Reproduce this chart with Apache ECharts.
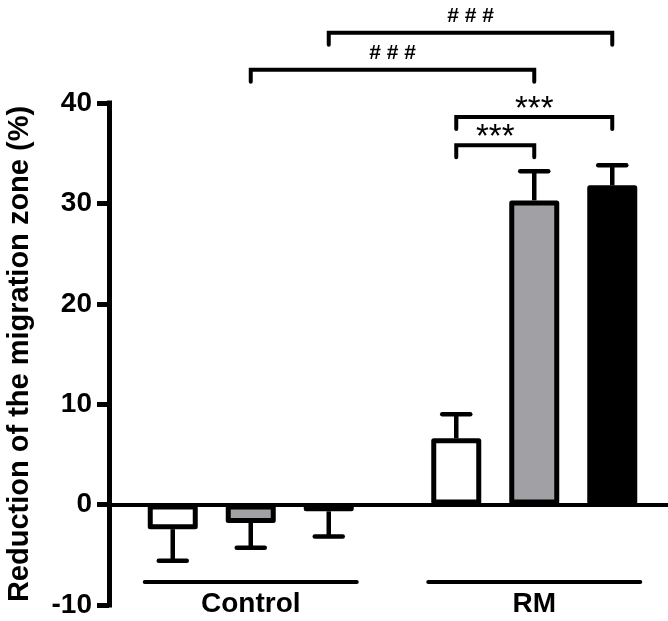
<!DOCTYPE html>
<html>
<head>
<meta charset="utf-8">
<script src="https://cdn.jsdelivr.net/npm/echarts@6/dist/echarts.min.js"></script>
<style>
html,body{margin:0;padding:0;background:#fff;}
#chart{width:668px;height:621px;}
</style>
</head>
<body>
<div id="chart"></div>
<script>
// ---- data ----
const categories = ['Control', 'RM'];
const seriesNames = ['White', 'Gray', 'Black'];
const whiteValues = [-2.45, 6.6];
const grayValues = [-1.83, 30.3];
const blackValues = [-0.67, 31.8];
const whiteSem = [3.15, 2.4];
const graySem = [2.46, 2.9];
const blackSem = [2.5, 2.0];
const yMin = -10, yMax = 40, yStep = 10;
const yTitle = 'Reduction of the migration zone (%)';
// significance brackets: [category, series] endpoints, level in axis units
const brackets = [
  { from: [1, 0], to: [1, 1], level: 35.8, label: '***' },
  { from: [1, 0], to: [1, 2], level: 38.6, label: '***' },
  { from: [0, 1], to: [1, 1], level: 43.3, label: '# # #' },
  { from: [0, 2], to: [1, 2], level: 47.0, label: '# # #' }
];

// ---- style ----
const FONT = "'Liberation Sans', Arial, sans-serif";
const fills = ['#ffffff', '#a1a0a5', '#000000'];
const BAR_W = 50, GAP = 28, STEP = BAR_W + GAP;
const values = [whiteValues, grayValues, blackValues];
const sems = [whiteSem, graySem, blackSem];

const chart = echarts.init(document.getElementById('chart'), null, { renderer: 'canvas' });

const barSeries = values.map((vals, i) => ({
  type: 'bar',
  name: seriesNames[i],
  data: vals,
  barWidth: BAR_W,
  barGap: (GAP / BAR_W * 100) + '%',
  itemStyle: { color: fills[i], borderColor: '#000', borderWidth: 5, borderJoin: 'round' },
  z: 2,
  silent: true
}));

const errSeries = values.map((vals, i) => ({
  type: 'custom',
  name: seriesNames[i] + ' SEM',
  data: vals.map((v, c) => [c, v, sems[i][c]]),
  z: 3,
  silent: true,
  renderItem: function (params, api) {
    const c = api.value(0), v = api.value(1), s = api.value(2);
    const end = v >= 0 ? v + s : v - s;
    const p0 = api.coord([c, v]);
    const p1 = api.coord([c, end]);
    const x = p0[0] + (i - 1) * STEP;
    return {
      type: 'group',
      children: [
        { type: 'line', shape: { x1: x, y1: p0[1], x2: x, y2: p1[1] }, style: { stroke: '#000', lineWidth: 4.5 } },
        { type: 'line', shape: { x1: x - 14, y1: p1[1], x2: x + 14, y2: p1[1] }, style: { stroke: '#000', lineWidth: 4.5, lineCap: 'round' } }
      ]
    };
  }
}));

chart.setOption({
  animation: false,
  backgroundColor: '#fff',
  grid: { left: 109, right: -8, top: 103, bottom: 16, containLabel: false, outerBoundsMode: 'none' },
  xAxis: {
    type: 'category',
    data: categories,
    axisLine: { onZero: true, lineStyle: { color: '#000', width: 4 } },
    axisTick: { show: false },
    axisLabel: { show: false },
    splitLine: { show: false }
  },
  yAxis: {
    type: 'value',
    min: yMin, max: yMax, interval: yStep,
    name: yTitle,
    nameLocation: 'middle',
    nameRotate: 90,
    nameGap: 75,
    nameTextStyle: { fontFamily: FONT, fontWeight: 'bold', fontSize: 29, color: '#000' },
    axisLine: { show: true, onZero: false, lineStyle: { color: '#000', width: 5, cap: 'square' } },
    axisTick: { show: true, inside: false, length: 12, lineStyle: { color: '#000', width: 5 } },
    axisLabel: { margin: 17, fontFamily: FONT, fontWeight: 'bold', fontSize: 28, color: '#000' },
    splitLine: { show: false }
  },
  series: barSeries.concat(errSeries)
});

// ---- annotations computed through the axes ----
function px(cat, ser, val) {
  const p = chart.convertToPixel({ gridIndex: 0 }, [cat, val]);
  return [p[0] + (ser - 1) * STEP, p[1]];
}
const graphics = [];
brackets.forEach(b => {
  const a = px(b.from[0], b.from[1], b.level);
  const e = px(b.to[0], b.to[1], b.level);
  const y = a[1];
  graphics.push({
    type: 'polyline',
    shape: { points: [[a[0], y + 12], [a[0], y], [e[0], y], [e[0], y + 12]] },
    style: { stroke: '#000', lineWidth: 4, fill: null, lineCap: 'round', lineJoin: 'miter' },
    silent: true
  });
  const isStar = b.label.indexOf('*') >= 0;
  graphics.push({
    type: 'text',
    style: {
      text: b.label,
      x: (a[0] + e[0]) / 2,
      y: isStar ? y + 9 : y - 6,
      align: 'center',
      verticalAlign: 'bottom',
      fontSize: isStar ? 33 : 21,
      fontWeight: isStar ? 'normal' : 'bold',
      fontFamily: FONT,
      fill: '#000'
    },
    silent: true
  });
});
// group underlines and labels
categories.forEach((name, c) => {
  const left = px(c, 0, -7.7);
  const right = px(c, 2, -7.7);
  graphics.push({
    type: 'line',
    shape: { x1: left[0] - 28, y1: left[1], x2: right[0] + 28, y2: right[1] },
    style: { stroke: '#000', lineWidth: 4, lineCap: 'round' },
    silent: true
  });
  const mid = px(c, 1, -9.9);
  graphics.push({
    type: 'text',
    style: {
      text: name,
      x: mid[0], y: mid[1],
      align: 'center',
      verticalAlign: 'middle',
      fontSize: 28,
      fontWeight: 'bold',
      fontFamily: FONT,
      fill: '#000'
    },
    silent: true
  });
});
chart.setOption({ graphic: graphics });
</script>
</body>
</html>
